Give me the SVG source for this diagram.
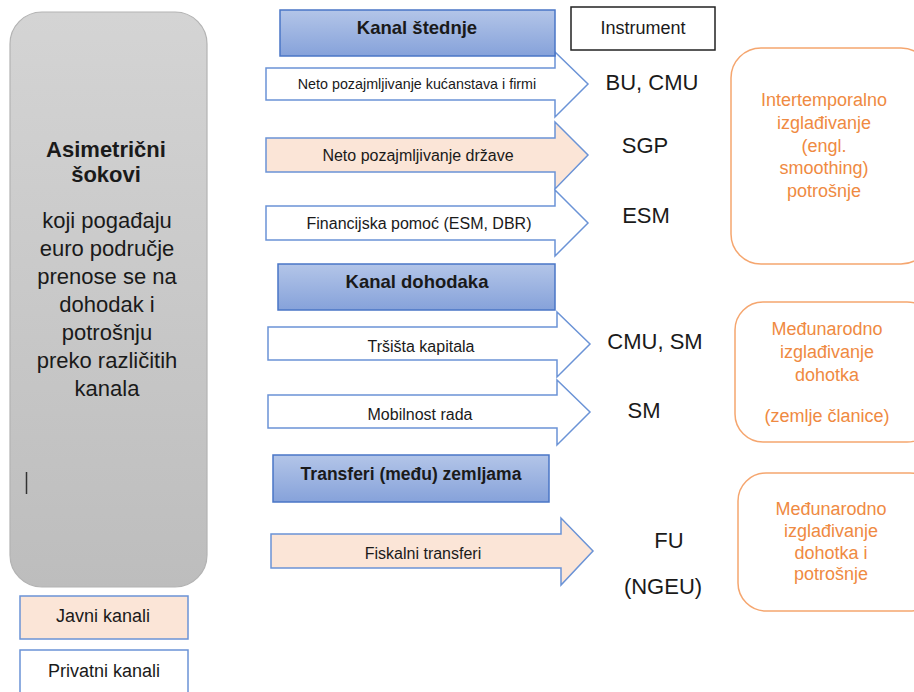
<svg xmlns="http://www.w3.org/2000/svg" width="914" height="692" viewBox="0 0 914 692">
<defs>
<linearGradient id="gGrey" x1="0" y1="0" x2="0" y2="1"><stop offset="0" stop-color="#d4d4d4"/><stop offset="1" stop-color="#bdbdbd"/></linearGradient>
<linearGradient id="gBlue" x1="0" y1="0" x2="0" y2="1"><stop offset="0" stop-color="#b3c5e8"/><stop offset="1" stop-color="#86a2da"/></linearGradient>
<style>
text{font-family:"Liberation Sans",Arial,sans-serif;text-anchor:middle;fill:#1a1a1a}
.hdr{fill:url(#gBlue);stroke:#4a76c6;stroke-width:1.5}
.hdrt{font-size:18.5px;font-weight:bold}
.arw{stroke:#6b93d6;stroke-width:1.5;fill:#ffffff}
.pub{fill:#fbe5d7}
.at{font-size:16px}
.lbl{font-size:22px}
.org{fill:#ffffff;stroke:#f5a66f;stroke-width:1.5}
.ot{font-size:18px;fill:#ef8a42}
.gt{font-size:22px}
</style>
</defs>
<g id="connectors">
<polygon id="a1" class="arw" points="266,68 555,68 555,52 588,84 555,117 555,100 266,100"/>
<polygon id="a2" class="arw pub" points="266,138 555,138 555,122 588,155 555,189 555,172 266,172"/>
<polygon id="a3" class="arw" points="266,206 555,206 555,190 588,223 555,256 555,240 266,240"/>
<polygon id="a4" class="arw" points="268,327 557,327 557,312 590,344 557,377 557,360 268,360"/>
<polygon id="a5" class="arw" points="268,395 557,395 557,380 590,412 557,445 557,428 268,428"/>
<polygon id="a6" class="arw pub" points="271,534 561,534 561,518 593,551 561,585 561,568 271,568"/>
<text x="417" y="89" style="font-size:14.3px">Neto pozajmljivanje kućanstava i firmi</text>
<text x="418" y="161" class="at">Neto pozajmljivanje države</text>
<text x="419" y="229" class="at">Financijska pomoć (ESM, DBR)</text>
<text x="421" y="352" class="at">Tršišta kapitala</text>
<text x="420" y="420" class="at">Mobilnost rada</text>
<text x="423" y="559" class="at">Fiskalni transferi</text>
</g>
<g id="shocks">
<rect x="10" y="12" width="197" height="575" rx="32" fill="url(#gGrey)" stroke="#b3b3b3" stroke-width="1.2"/>
<text x="106" y="157" class="gt" style="font-weight:bold">Asimetrični</text>
<text x="106" y="182" class="gt" style="font-weight:bold">šokovi</text>
<text x="107" y="228" class="gt">koji pogađaju</text>
<text x="107" y="256" class="gt">euro područje</text>
<text x="107" y="284" class="gt">prenose se na</text>
<text x="107" y="312" class="gt">dohodak i</text>
<text x="107" y="340" class="gt">potrošnju</text>
<text x="107" y="368" class="gt">preko različitih</text>
<text x="107" y="396" class="gt">kanala</text>
<line x1="26.5" y1="472" x2="26.5" y2="494" stroke="#333" stroke-width="1.5"/>
</g>
<g id="legend-public">
<rect x="20" y="596" width="168" height="43" fill="#fbe5d7" stroke="#6b93d6" stroke-width="1.5"/>
<text x="103" y="622" style="font-size:18px">Javni kanali</text>
</g>
<g id="legend-private">
<rect x="20" y="650" width="168" height="60" fill="#ffffff" stroke="#6b93d6" stroke-width="1.5"/>
<text x="104" y="677" style="font-size:18px">Privatni kanali</text>
</g>
<g id="h1">
<rect class="hdr" x="280" y="10" width="275" height="46"/>
<text x="417" y="34" class="hdrt">Kanal štednje</text>
</g>
<g id="h2">
<rect class="hdr" x="278" y="264" width="277" height="46"/>
<text x="417" y="288" class="hdrt">Kanal dohodaka</text>
</g>
<g id="h3">
<rect class="hdr" x="273" y="455" width="276" height="47"/>
<text x="411" y="480" class="hdrt" style="font-size:17.5px">Transferi (među) zemljama</text>
</g>
<g id="instrument">
<rect x="571" y="7" width="144" height="43" fill="#ffffff" stroke="#222" stroke-width="1.5"/>
<text x="643" y="34" style="font-size:18px">Instrument</text>
</g>
<g id="instruments">
<text x="652" y="90" class="lbl">BU, CMU</text>
<text x="645" y="153" class="lbl">SGP</text>
<text x="646" y="223" class="lbl">ESM</text>
<text x="655" y="349" class="lbl">CMU, SM</text>
<text x="644" y="418" class="lbl">SM</text>
<text x="669" y="548" class="lbl">FU</text>
<text x="663" y="594" class="lbl">(NGEU)</text>
</g>
<g id="o1">
<rect class="org" x="731" y="48" width="200" height="216" rx="30"/>
<text class="ot" x="824" y="106">Intertemporalno</text>
<text class="ot" x="824" y="129">izglađivanje</text>
<text class="ot" x="824" y="152">(engl.</text>
<text class="ot" x="824" y="174">smoothing)</text>
<text class="ot" x="824" y="197">potrošnje</text>
</g>
<g id="o2">
<rect class="org" x="735" y="302" width="200" height="140" rx="28"/>
<text class="ot" x="827" y="335">Međunarodno</text>
<text class="ot" x="827" y="358">izglađivanje</text>
<text class="ot" x="827" y="381">dohotka</text>
<text class="ot" x="827" y="422">(zemlje članice)</text>
</g>
<g id="o3">
<rect class="org" x="738" y="473" width="200" height="138" rx="28"/>
<text class="ot" x="831" y="515">Međunarodno</text>
<text class="ot" x="831" y="537">izglađivanje</text>
<text class="ot" x="831" y="559">dohotka i</text>
<text class="ot" x="831" y="580">potrošnje</text>
</g>
</svg>
